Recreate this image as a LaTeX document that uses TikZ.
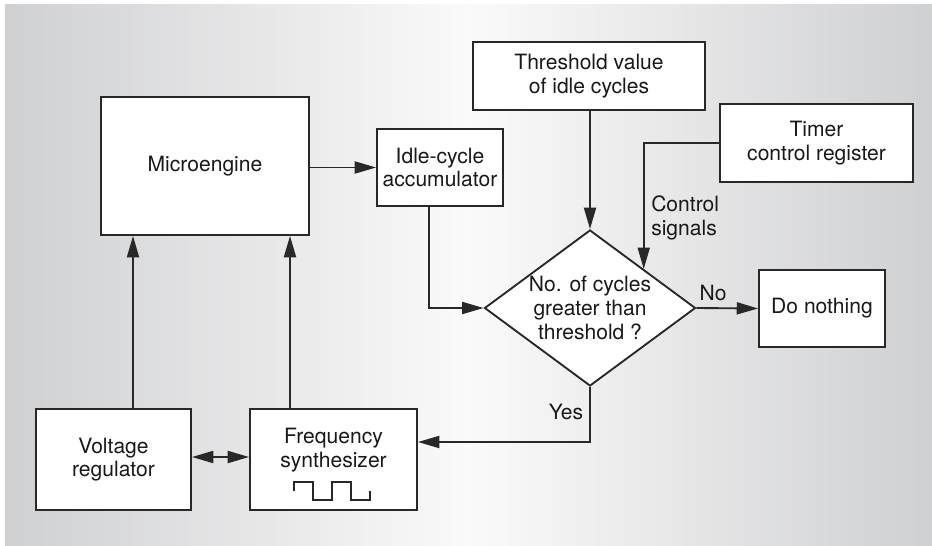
\documentclass[tikz,border=0pt]{standalone}
\usepackage{fontspec}
\setmainfont{TeX Gyre Heros}
\usetikzlibrary{arrows.meta,positioning,shapes.geometric,calc}
\definecolor{bggray}{RGB}{207,208,210}
\definecolor{bglight}{RGB}{250,250,250}
\definecolor{inkgray}{RGB}{40,40,40}

\begin{document}
\begin{tikzpicture}[
    x=0.75pt, y=-0.75pt,
    box/.style={draw=inkgray, line width=1.4pt, fill=white, align=center, inner sep=0pt, font=\fontsize{15.8}{17.8}\selectfont, text=black!90},
    decision/.style={diamond, aspect=1.35, draw=inkgray, line width=1.4pt, fill=white, align=center, inner sep=0pt, font=\fontsize{15.8}{17.8}\selectfont, text=black!90},
    lbl/.style={inner sep=0pt, font=\fontsize{15.8}{17.8}\selectfont, text=black!90},
    link/.style={-{Triangle[length=16pt, width=9pt]}, line width=1.4pt, draw=inkgray}
]
\useasboundingbox (0,0) rectangle (932,546);
\shade[left color=bggray, right color=bggray, middle color=bglight] (5,4) rectangle (932,546);

\node[box, minimum width=156pt, minimum height=103.5pt] (micro) at (205,166) {Microengine};
\node[box, minimum width=94.5pt, minimum height=57.75pt] (accum) at (440,167.5) {Idle-cycle\\accumulator};
\node[box, minimum width=174pt, minimum height=51pt] (thresh) at (589,76) {Threshold value\\of idle cycles};
\node[box, minimum width=144.75pt, minimum height=58.5pt] (timer) at (816.5,143) {Timer\\control register};
\node[decision, minimum width=158.25pt, minimum height=117pt] (check) at (590,308) {No. of cycles\\greater than\\threshold ?};
\node[box, minimum width=94.5pt, minimum height=57.75pt] (nothing) at (822,308.5) {Do nothing};
\node[box, minimum width=116.25pt, minimum height=75.75pt] (volt) at (113.5,459.5) {Voltage\\regulator};
\node[box, minimum width=125.25pt, minimum height=75.75pt] (freq) at (333.5,459.5) {Frequency\\synthesizer\\\mbox{}};

\node[lbl, anchor=west, align=left] (ctrllbl) at (651,218) {Control\\signals};
\node[lbl] (nolbl) at (713,293) {No};
\node[lbl] (yeslbl) at (566,412) {Yes};

% clock pulses
\draw[inkgray, line width=1pt] (294,491) -- (294,482) -- (313,482) -- (313,500) -- (332,500) -- (332,482) -- (351,482) -- (351,500) -- (370,500) -- (370,491);

\coordinate (ctrl) at ($(check.north)!0.505!(check.east)$);
\draw[link] (volt.north -| 133,0) -- (micro.south -| 133,0);
\draw[link] (freq.north -| 290,0) -- (micro.south -| 290,0);
\draw[link] (micro.east |- accum.west) -- (accum.west);
\draw[link] (accum.south -| 429,0) |- (check.west);
\draw[link] (thresh.south -| check.north) -- (check.north);
\draw[link] (timer.west) -| (ctrl);
\draw[link] (check.east) -- (nothing.west);
\draw[link] (check.south) |- (freq.east |- 0,442);
\draw[link, {Triangle[length=16pt, width=9pt]}-{Triangle[length=16pt, width=9pt]}] (volt.east |- 0,457) -- (freq.west |- 0,457);
\end{tikzpicture}
\end{document}
